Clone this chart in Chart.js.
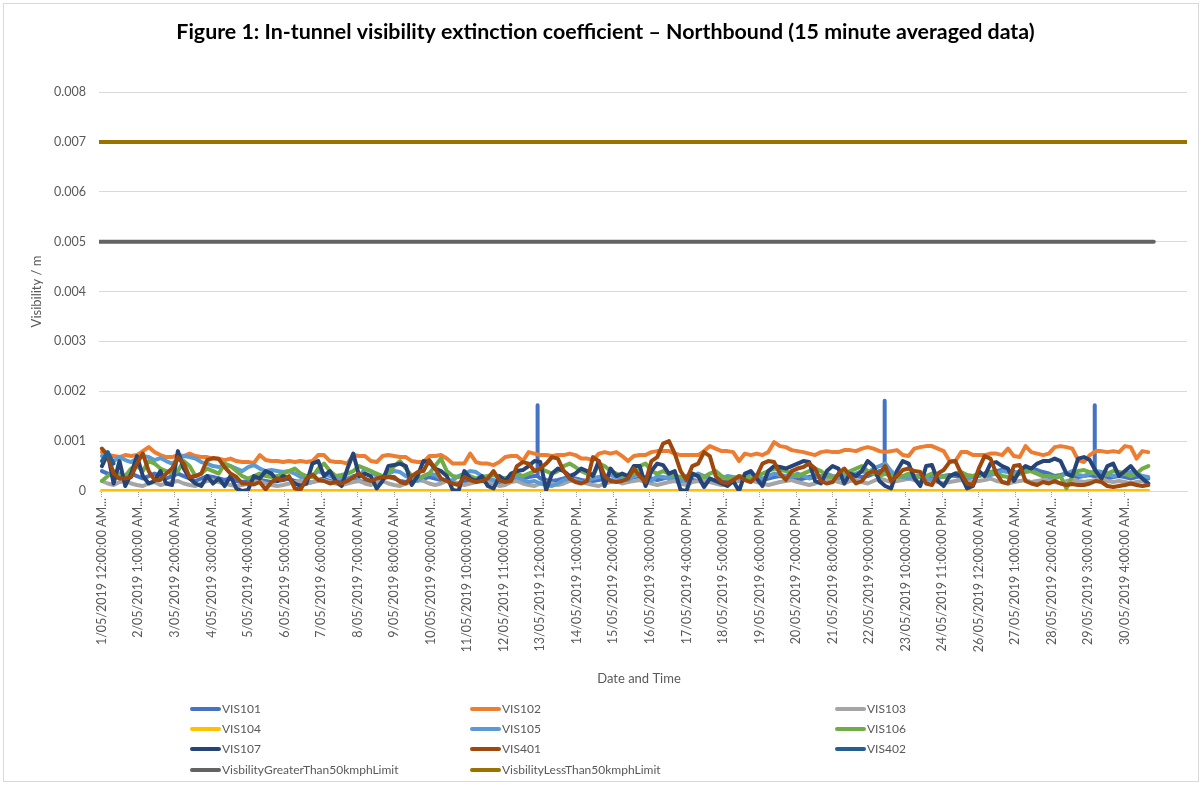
<!DOCTYPE html>
<html>
<head>
<meta charset="utf-8">
<script src="https://cdn.jsdelivr.net/npm/chart.js@4.4.1/dist/chart.umd.min.js"></script>
<style>
  html, body { margin: 0; padding: 0; background: #fff; }
  #wrap { width: 1202px; height: 785px; position: relative; }
</style>
</head>
<body>
<div id="wrap"><canvas id="c" width="1202" height="785"></canvas></div>
<script>
// ---------------- DATA ----------------
const TITLE = 'Figure 1: In-tunnel visibility extinction coefficient \u2013 Northbound (15 minute averaged data)';
const X_TITLE = 'Date and Time';
const Y_TITLE = 'Visibility / m';

// tick labels (one every 25 hours, as on the original axis)
const TICK_LABELS = [
  '1/05/2019 12:00:00 AM...', '2/05/2019 1:00:00 AM...', '3/05/2019 2:00:00 AM...',
  '4/05/2019 3:00:00 AM...', '5/05/2019 4:00:00 AM...', '6/05/2019 5:00:00 AM...',
  '7/05/2019 6:00:00 AM...', '8/05/2019 7:00:00 AM...', '9/05/2019 8:00:00 AM...',
  '10/05/2019 9:00:00 AM...', '11/05/2019 10:00:00 AM...', '12/05/2019 11:00:00 AM...',
  '13/05/2019 12:00:00 PM...', '14/05/2019 1:00:00 PM...', '15/05/2019 2:00:00 PM...',
  '16/05/2019 3:00:00 PM...', '17/05/2019 4:00:00 PM...', '18/05/2019 5:00:00 PM...',
  '19/05/2019 6:00:00 PM...', '20/05/2019 7:00:00 PM...', '21/05/2019 8:00:00 PM...',
  '22/05/2019 9:00:00 PM...', '23/05/2019 10:00:00 PM...', '24/05/2019 11:00:00 PM...',
  '26/05/2019 12:00:00 AM...', '27/05/2019 1:00:00 AM...', '28/05/2019 2:00:00 AM...',
  '29/05/2019 3:00:00 AM...', '30/05/2019 4:00:00 AM...'
];
const TICK_STEP_H = 25;   // hours between axis labels
const SAMPLE_STEP_H = 4;  // readings below are sampled every 4 hours (6 per day, 1/05 .. 30/05)
const Y_TICKS = [0, 0.001, 0.002, 0.003, 0.004, 0.005, 0.006, 0.007, 0.008];

const VIS101 = [
  .00040,.00035,.00030,.00025,.00030,.00035, .00030,.00025,.00030,.00035,.00030,.00025,
  .00030,.00035,.00030,.00025,.00020,.00025, .00030,.00028,.00025,.00022,.00025,.00020,
  .00018,.00020,.00025,.00022,.00020,.00018, .00020,.00022,.00025,.00020,.00018,.00015,
  .00018,.00022,.00025,.00020,.00018,.00020, .00022,.00025,.00020,.00018,.00020,.00022,
  .00025,.00028,.00025,.00020,.00018,.00020, .00022,.00025,.00028,.00025,.00022,.00020,
  .00018,.00015,.00018,.00020,.00022,.00020, .00018,.00015,.00018,.00020,.00022,.00025,
  .00025,.00028,.00030,.00025,.00022,.00020, .00022,.00025,.00028,.00025,.00022,.00020,
  .00020,.00022,.00025,.00022,.00020,.00018, .00020,.00022,.00025,.00028,.00025,.00022,
  .00025,.00028,.00025,.00022,.00020,.00022, .00020,.00018,.00020,.00022,.00020,.00018,
  .00020,.00022,.00025,.00022,.00020,.00022, .00025,.00028,.00030,.00028,.00025,.00022,
  .00025,.00028,.00030,.00028,.00025,.00028, .00030,.00032,.00035,.00030,.00028,.00030,
  .00035,.00040,.00038,.00035,.00030,.00028, .00025,.00028,.00030,.00028,.00025,.00028,
  .00030,.00032,.00030,.00028,.00025,.00028, .00030,.00035,.00038,.00040,.00042,.00040,
  .00038,.00035,.00040,.00045,.00042,.00038, .00035,.00030,.00032,.00035,.00030,.00028,
  .00030,.00032,.00030,.00028,.00025,.00028, .00030,.00028,.00025,.00028,.00030,.00025
];
// short VIS101 spikes: [hour from 1/05 00:00, value]
const VIS101_SPIKES = [
  [297.75, .00030], [298.0, .00172], [298.25, .00030],
  [535.25, .00035], [535.5, .00181], [535.75, .00035],
  [679.0, .00030], [679.25, .00172], [679.5, .00030]
];
const VIS102 = [
  .00078,.00072,.00070,.00068,.00072,.00070, .00072,.00080,.00088,.00078,.00072,.00068,
  .00068,.00072,.00070,.00075,.00070,.00068, .00068,.00065,.00065,.00062,.00065,.00060,
  .00058,.00058,.00056,.00072,.00062,.00060, .00060,.00058,.00060,.00058,.00060,.00058,
  .00060,.00072,.00072,.00060,.00058,.00058, .00055,.00072,.00070,.00070,.00060,.00058,
  .00070,.00072,.00070,.00068,.00068,.00060, .00058,.00058,.00070,.00070,.00072,.00065,
  .00055,.00055,.00055,.00075,.00058,.00055, .00055,.00052,.00058,.00068,.00070,.00070,
  .00060,.00078,.00075,.00072,.00072,.00070, .00072,.00072,.00075,.00072,.00065,.00065,
  .00062,.00075,.00078,.00075,.00078,.00070, .00060,.00070,.00072,.00072,.00078,.00080,
  .00080,.00080,.00075,.00072,.00072,.00072, .00072,.00080,.00090,.00085,.00080,.00080,
  .00078,.00060,.00075,.00072,.00075,.00072, .00078,.00098,.00090,.00088,.00082,.00080,
  .00078,.00075,.00072,.00078,.00080,.00078, .00078,.00082,.00082,.00080,.00085,.00088,
  .00085,.00080,.00078,.00080,.00082,.00072, .00070,.00085,.00088,.00090,.00090,.00085,
  .00080,.00060,.00060,.00078,.00078,.00072, .00072,.00072,.00075,.00075,.00072,.00085,
  .00070,.00068,.00090,.00078,.00075,.00072, .00075,.00088,.00090,.00088,.00085,.00062,
  .00058,.00072,.00080,.00080,.00078,.00080, .00078,.00090,.00088,.00065,.00080,.00078
];
const VIS103 = [
  .00020,.00015,.00012,.00018,.00020,.00015, .00012,.00010,.00015,.00018,.00012,.00015,
  .00018,.00020,.00015,.00012,.00010,.00015, .00020,.00022,.00018,.00015,.00012,.00010,
  .00012,.00015,.00018,.00020,.00015,.00012, .00010,.00012,.00015,.00018,.00020,.00015,
  .00018,.00020,.00022,.00018,.00015,.00012, .00015,.00018,.00020,.00015,.00012,.00018,
  .00020,.00015,.00012,.00010,.00015,.00018, .00022,.00020,.00015,.00012,.00015,.00020,
  .00018,.00015,.00012,.00015,.00018,.00022, .00020,.00015,.00010,.00012,.00018,.00020,
  .00015,.00012,.00010,.00015,.00018,.00015, .00012,.00015,.00020,.00022,.00018,.00015,
  .00012,.00010,.00015,.00018,.00020,.00015, .00018,.00020,.00022,.00018,.00015,.00012,
  .00015,.00018,.00020,.00015,.00012,.00018, .00020,.00022,.00018,.00015,.00012,.00015,
  .00018,.00020,.00025,.00022,.00018,.00015, .00012,.00015,.00018,.00020,.00022,.00018,
  .00015,.00012,.00015,.00020,.00025,.00022, .00018,.00015,.00020,.00022,.00018,.00015,
  .00020,.00025,.00022,.00018,.00020,.00022, .00025,.00022,.00018,.00020,.00022,.00018,
  .00015,.00018,.00020,.00022,.00020,.00018, .00020,.00022,.00025,.00020,.00018,.00015,
  .00018,.00020,.00022,.00018,.00020,.00022, .00020,.00018,.00015,.00020,.00022,.00020,
  .00018,.00020,.00022,.00025,.00020,.00018, .00020,.00018,.00015,.00018,.00020,.00015
];
const VIS104 = [
  0,0,0,0,0,0, 0,0,0,0,0,0, 0,0,0,0,0,0, 0,0,0,0,0,0, 0,0,0,0,0,0,
  0,0,0,0,0,0, 0,0,0,0,0,0, 0,0,0,0,0,0, 0,0,0,0,0,0, 0,0,0,0,0,0,
  0,0,0,0,0,0, 0,0,0,0,0,0, 0,0,0,0,0,0, 0,0,0,0,0,0, 0,0,0,0,0,0,
  0,0,0,0,0,0, 0,0,0,0,0,0, 0,0,0,0,0,0, 0,0,0,0,0,0, 0,0,0,0,0,0,
  0,0,0,0,0,0, 0,0,0,0,0,0, 0,0,0,0,0,0, 0,0,0,0,0,0, 0,0,0,0,0,0,
  0,0,0,0,0,0, 0,0,0,0,0,0, 0,0,0,0,0,0, 0,0,0,0,0,0, 0,0,0,0,0,0
];
const VIS105 = [
  .00070,.00065,.00060,.00068,.00062,.00058, .00065,.00070,.00068,.00062,.00066,.00060,
  .00055,.00062,.00070,.00068,.00065,.00058, .00055,.00050,.00048,.00052,.00050,.00045,
  .00040,.00048,.00052,.00045,.00040,.00042, .00040,.00038,.00040,.00035,.00028,.00025,
  .00030,.00040,.00035,.00030,.00025,.00028, .00025,.00030,.00028,.00045,.00040,.00030,
  .00025,.00035,.00040,.00038,.00030,.00025, .00020,.00030,.00035,.00032,.00025,.00020,
  .00022,.00030,.00035,.00040,.00038,.00030, .00025,.00022,.00020,.00025,.00030,.00028,
  .00022,.00018,.00020,.00015,.00012,.00010, .00015,.00022,.00025,.00020,.00018,.00020,
  .00025,.00028,.00030,.00032,.00028,.00025, .00022,.00030,.00035,.00025,.00020,.00030,
  .00028,.00025,.00030,.00020,.00022,.00030, .00035,.00030,.00025,.00020,.00025,.00030,
  .00028,.00025,.00030,.00035,.00030,.00025, .00030,.00035,.00032,.00030,.00028,.00035,
  .00030,.00025,.00028,.00030,.00035,.00030, .00025,.00030,.00032,.00035,.00040,.00035,
  .00045,.00050,.00055,.00040,.00030,.00028, .00025,.00030,.00028,.00025,.00022,.00025,
  .00030,.00028,.00035,.00030,.00025,.00030, .00035,.00030,.00032,.00035,.00040,.00038,
  .00035,.00040,.00045,.00040,.00035,.00030, .00028,.00025,.00030,.00035,.00040,.00032,
  .00030,.00035,.00040,.00038,.00035,.00030, .00032,.00035,.00038,.00035,.00030,.00028
];
const VIS106 = [
  .00020,.00030,.00040,.00035,.00030,.00045, .00050,.00040,.00060,.00055,.00045,.00040,
  .00035,.00040,.00060,.00050,.00030,.00035, .00045,.00040,.00035,.00055,.00050,.00040,
  .00030,.00025,.00030,.00035,.00030,.00028, .00030,.00035,.00040,.00045,.00035,.00030,
  .00028,.00045,.00055,.00040,.00030,.00032, .00035,.00040,.00050,.00045,.00040,.00035,
  .00030,.00035,.00050,.00060,.00045,.00030, .00025,.00030,.00035,.00050,.00065,.00040,
  .00030,.00028,.00032,.00030,.00025,.00028, .00030,.00032,.00028,.00025,.00030,.00035,
  .00030,.00035,.00040,.00045,.00040,.00035, .00040,.00050,.00055,.00048,.00040,.00035,
  .00030,.00055,.00050,.00040,.00035,.00030, .00030,.00035,.00050,.00055,.00040,.00035,
  .00040,.00035,.00030,.00028,.00030,.00035, .00030,.00028,.00035,.00040,.00030,.00025,
  .00025,.00030,.00028,.00025,.00030,.00035, .00040,.00045,.00042,.00040,.00035,.00030,
  .00035,.00040,.00045,.00040,.00030,.00028, .00030,.00035,.00040,.00045,.00050,.00040,
  .00035,.00030,.00035,.00030,.00028,.00030, .00035,.00030,.00028,.00030,.00035,.00030,
  .00028,.00030,.00035,.00038,.00032,.00030, .00030,.00035,.00038,.00035,.00030,.00028,
  .00030,.00035,.00038,.00040,.00035,.00030, .00030,.00028,.00030,.00005,.00030,.00040,
  .00042,.00038,.00035,.00030,.00035,.00040, .00038,.00035,.00030,.00035,.00045,.00050
];
const VIS107 = [
  .00050,.00075,.00015,.00060,.00010,.00035, .00070,.00030,.00015,.00020,.00040,.00015,
  .00012,.00080,.00045,.00025,.00015,.00010, .00030,.00015,.00025,.00010,.00030,.00005,
  .00000,.00002,.00030,.00025,.00040,.00035, .00020,.00030,.00025,.00015,.00010,.00015,
  .00055,.00060,.00030,.00040,.00020,.00010, .00045,.00075,.00030,.00035,.00030,.00005,
  .00020,.00050,.00052,.00055,.00050,.00012, .00030,.00060,.00058,.00045,.00040,.00030,
  .00002,.00000,.00040,.00025,.00020,.00030, .00010,.00005,.00030,.00020,.00035,.00040,
  .00042,.00050,.00060,.00058,.00002,.00035, .00045,.00040,.00030,.00035,.00045,.00040,
  .00030,.00060,.00010,.00045,.00030,.00035, .00030,.00050,.00050,.00010,.00040,.00055,
  .00052,.00035,.00040,.00002,.00000,.00035, .00030,.00008,.00025,.00020,.00015,.00010,
  .00020,.00000,.00035,.00040,.00025,.00010, .00040,.00050,.00048,.00045,.00050,.00055,
  .00060,.00058,.00020,.00015,.00040,.00050, .00045,.00015,.00035,.00030,.00040,.00060,
  .00050,.00020,.00010,.00005,.00040,.00060, .00055,.00025,.00010,.00050,.00052,.00020,
  .00010,.00030,.00035,.00030,.00005,.00010, .00040,.00030,.00055,.00058,.00050,.00045,
  .00020,.00040,.00050,.00045,.00055,.00060, .00060,.00065,.00060,.00035,.00030,.00065,
  .00068,.00062,.00040,.00025,.00050,.00055, .00030,.00040,.00050,.00035,.00025,.00015
];
const VIS401 = [
  .00085,.00072,.00035,.00025,.00025,.00028, .00055,.00075,.00040,.00022,.00022,.00035,
  .00045,.00068,.00055,.00028,.00030,.00035, .00062,.00066,.00064,.00048,.00035,.00028,
  .00015,.00015,.00013,.00018,.00003,.00018, .00025,.00022,.00030,.00005,.00003,.00025,
  .00033,.00022,.00020,.00015,.00018,.00015, .00020,.00028,.00035,.00025,.00020,.00025,
  .00028,.00028,.00028,.00018,.00015,.00030, .00038,.00040,.00062,.00045,.00025,.00020,
  .00015,.00012,.00028,.00022,.00018,.00020, .00025,.00040,.00022,.00018,.00020,.00050,
  .00058,.00055,.00040,.00045,.00055,.00068, .00065,.00040,.00025,.00018,.00015,.00020,
  .00068,.00060,.00030,.00020,.00018,.00020, .00025,.00045,.00030,.00018,.00060,.00068,
  .00095,.00100,.00075,.00040,.00022,.00050, .00055,.00078,.00070,.00030,.00018,.00015,
  .00022,.00030,.00022,.00018,.00030,.00055, .00060,.00058,.00035,.00022,.00040,.00045,
  .00048,.00055,.00045,.00020,.00015,.00018, .00035,.00045,.00030,.00015,.00020,.00035,
  .00040,.00035,.00050,.00020,.00030,.00042, .00045,.00040,.00038,.00015,.00012,.00035,
  .00042,.00058,.00060,.00035,.00015,.00012, .00045,.00070,.00065,.00035,.00018,.00015,
  .00050,.00052,.00020,.00015,.00012,.00018, .00015,.00020,.00015,.00012,.00014,.00012,
  .00012,.00015,.00020,.00018,.00010,.00008, .00010,.00012,.00015,.00012,.00010,.00012
];
const VIS402 = [.00060, .00078, .00055];
// limit lines: [start hour, end hour] and value
const LIMIT_GREATER = { value: 0.005, from: -2, to: 719.75 };
const LIMIT_LESS = { value: 0.007, from: -2, to: 742.5 };

const X_MIN_H = -2, X_MAX_H = 742.5;

// ---------------- BUILD ----------------
const toPoints = arr => arr.map((v, k) => ({ x: k * SAMPLE_STEP_H, y: v }));
const vis101Points = toPoints(VIS101)
  .concat(VIS101_SPIKES.map(([h, v]) => ({ x: h, y: v })))
  .sort((a, b) => a.x - b.x);

const SERIES = [
  { label: 'VIS101', color: '#4472C4', data: vis101Points },
  { label: 'VIS102', color: '#ED7D31', data: toPoints(VIS102) },
  { label: 'VIS103', color: '#A5A5A5', data: toPoints(VIS103) },
  { label: 'VIS104', color: '#FFC000', data: toPoints(VIS104) },
  { label: 'VIS105', color: '#5B9BD5', data: toPoints(VIS105) },
  { label: 'VIS106', color: '#70AD47', data: toPoints(VIS106) },
  { label: 'VIS107', color: '#264478', data: toPoints(VIS107) },
  { label: 'VIS401', color: '#9E480E', data: toPoints(VIS401) },
  { label: 'VIS402', color: '#255E91', data: toPoints(VIS402) },
  { label: 'VisbilityGreaterThan50kmphLimit', color: '#636363',
    data: [{ x: LIMIT_GREATER.from, y: LIMIT_GREATER.value }, { x: LIMIT_GREATER.to, y: LIMIT_GREATER.value }] },
  { label: 'VisbilityLessThan50kmphLimit', color: '#997300',
    data: [{ x: LIMIT_LESS.from, y: LIMIT_LESS.value }, { x: LIMIT_LESS.to, y: LIMIT_LESS.value }] }
];

const FONT = 'Lato';
const TXT = '#595959';

const overlay = {
  id: 'overlay',
  beforeDraw(chart) {
    const ctx = chart.ctx;
    ctx.save();
    ctx.fillStyle = '#ffffff';
    ctx.fillRect(0, 0, chart.width, chart.height);
    ctx.strokeStyle = '#d9d9d9';
    ctx.lineWidth = 1;
    ctx.strokeRect(3.5, 3.5, chart.width - 7, chart.height - 7);
    ctx.restore();
  },
  afterDraw(chart) {
    const ctx = chart.ctx;
    const ca = chart.chartArea;
    ctx.save();
    // title
    ctx.fillStyle = '#000000';
    ctx.font = 'bold 100px ' + FONT;
    const w100 = ctx.measureText(TITLE).width;
    const fs = 100 * 859 / w100;
    ctx.font = 'bold ' + fs.toFixed(2) + 'px ' + FONT;
    ctx.textAlign = 'center';
    ctx.textBaseline = 'middle';
    ctx.fillText(TITLE, 605.5, 32);
    // axis titles
    ctx.fillStyle = TXT;
    ctx.font = '13px ' + FONT;
    ctx.fillText(X_TITLE, 639, 679);
    ctx.save();
    ctx.translate(37, (ca.top + ca.bottom) / 2);
    ctx.rotate(-Math.PI / 2);
    ctx.fillText(Y_TITLE, 0, 0);
    ctx.restore();
    // legend (3 columns)
    const colX = [190, 470, 835];
    const rowY = [709, 729, 749, 770];
    ctx.font = '12px ' + FONT;
    ctx.textAlign = 'left';
    chart.data.datasets.forEach((ds, i) => {
      const cx = colX[i % 3], cy = rowY[Math.floor(i / 3)];
      ctx.strokeStyle = ds.borderColor;
      ctx.lineWidth = 4;
      ctx.lineCap = 'round';
      ctx.beginPath();
      ctx.moveTo(cx + 2, cy);
      ctx.lineTo(cx + 29, cy);
      ctx.stroke();
      ctx.fillStyle = TXT;
      ctx.fillText(ds.label, cx + 32, cy);
    });
    ctx.restore();
  }
};

new Chart(document.getElementById('c'), {
  type: 'line',
  data: {
    datasets: SERIES.map((s, i) => ({
      label: s.label,
      data: s.data,
      borderColor: s.color,
      backgroundColor: s.color,
      borderWidth: 4,
      pointRadius: 0,
      pointHoverRadius: 0,
      tension: 0,
      fill: false,
      borderJoinStyle: 'round',
      borderCapStyle: 'round',
      order: SERIES.length - i
    }))
  },
  options: {
    responsive: false,
    animation: false,
    events: [],
    layout: { padding: { top: 92, right: 15, left: 0, bottom: 0 } },
    plugins: { legend: { display: false }, title: { display: false }, tooltip: { enabled: false } },
    scales: {
      x: {
        type: 'linear',
        min: X_MIN_H,
        max: X_MAX_H,
        afterBuildTicks: s => { s.ticks = TICK_LABELS.map((_, i) => ({ value: i * TICK_STEP_H })); },
        afterFit: s => { s.height = 294; },
        ticks: {
          autoSkip: false, minRotation: 90, maxRotation: 90, padding: 1,
          color: TXT, font: { family: FONT, size: 12.5 },
          callback: (v, i) => TICK_LABELS[i]
        },
        grid: {
          drawOnChartArea: false, drawTicks: true, tickLength: 6,
          tickColor: '#a6a6a6', tickWidth: 1, tickBorderDash: [1, 1]
        },
        border: { display: true, color: '#d9d9d9', width: 1 }
      },
      y: {
        min: 0,
        max: 0.008,
        afterBuildTicks: s => { s.ticks = Y_TICKS.map(v => ({ value: v })); },
        afterFit: s => { s.width = 99; },
        ticks: {
          padding: 13, color: TXT, font: { family: FONT, size: 12.5 },
          callback: v => (v === 0 ? '0' : v.toFixed(3))
        },
        grid: { color: '#d9d9d9', lineWidth: 1, drawTicks: false },
        border: { display: false }
      }
    }
  },
  plugins: [overlay]
});
</script>
</body>
</html>
